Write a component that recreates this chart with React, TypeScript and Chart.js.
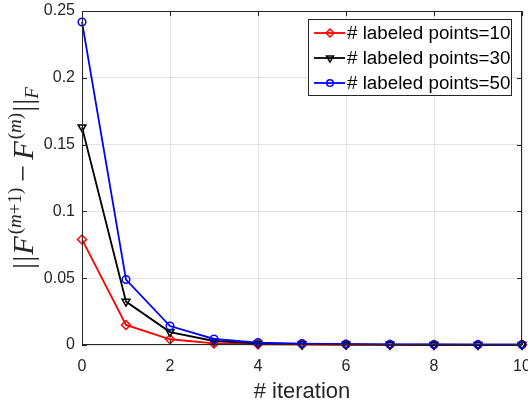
import React, { useEffect, useRef } from "react";
import { Chart, registerables } from "chart.js";
import { drawPoint } from "chart.js/helpers";

Chart.register(...registerables);

// Convergence of the label matrix over the iterations
const iterations = [0, 1, 2, 3, 4, 5, 6, 7, 8, 9, 10];
const points10 = [0.079, 0.015, 0.0043, 0.0012, 0.0005, 0.0003, 0.0002, 0.0001, 0.0001, 0.0001, 0.0001];
const points30 = [0.163, 0.0325, 0.0097, 0.003, 0.0012, 0.0006, 0.0004, 0.0003, 0.0002, 0.0002, 0.0002];
const points50 = [0.2418, 0.049, 0.0142, 0.0045, 0.0018, 0.0011, 0.0007, 0.0005, 0.0004, 0.0003, 0.0003];

const seriesLabels = ["# labeled points=10", "# labeled points=30", "# labeled points=50"];
const xTicks = [0, 2, 4, 6, 8, 10];
const yTicks = [0, 0.05, 0.1, 0.15, 0.2, 0.25];
const yTickLabels = ["0", "0.05", "0.1", "0.15", "0.2", "0.25"];
const xTitle = "# iteration";

const SANS = '"Liberation Sans", Arial, Helvetica, sans-serif';
const SERIF = '"Liberation Serif", "DejaVu Serif", serif';
const INK = "#262626";
const GRID = "#e3e3e3";

type Piece = { t: string; font: string; dy: number; before?: number; after?: number };

function titlePieces(S: number): Piece[] {
  const s = Math.round(S * 0.64);
  const up = (sz: number) => `${sz}px ${SERIF}`;
  const it = (sz: number) => `italic ${sz}px ${SERIF}`;
  const sup = -0.4 * S;
  const sub = 0.18 * S;
  return [
    { t: "|", font: up(S), dy: 0, after: 1 },
    { t: "|", font: up(S), dy: 0, after: 1 },
    { t: "F", font: it(S), dy: 0, after: 2 },
    { t: "(", font: up(s), dy: sup },
    { t: "m", font: it(s), dy: sup },
    { t: "+1)", font: up(s), dy: sup },
    { t: "\u2212", font: up(S), dy: 0, before: 0.18 * S, after: 0.18 * S },
    { t: "F", font: it(S), dy: 0, after: 2 },
    { t: "(", font: up(s), dy: sup },
    { t: "m", font: it(s), dy: sup },
    { t: ")", font: up(s), dy: sup, after: 1 },
    { t: "|", font: up(S), dy: 0, after: 1 },
    { t: "|", font: up(S), dy: 0, after: 0 },
    { t: "F", font: it(s), dy: sub },
  ];
}

function measure(ctx: CanvasRenderingContext2D, pieces: Piece[]) {
  let total = 0;
  const widths = pieces.map((p) => {
    ctx.font = p.font;
    const w = ctx.measureText(p.t).width;
    total += (p.before || 0) + w + (p.after || 0);
    return w;
  });
  return { total, widths };
}

// ||F^{(m+1)} - F^{(m)}||_F, rotated along the left edge
function drawYTitle(ctx: CanvasRenderingContext2D, cx: number, cy: number, length: number) {
  ctx.save();
  let S = 31;
  let m = measure(ctx, titlePieces(S));
  S = S * (length / m.total);
  const pieces = titlePieces(S);
  m = measure(ctx, pieces);
  ctx.translate(cx, cy);
  ctx.rotate(-Math.PI / 2);
  ctx.fillStyle = INK;
  ctx.textBaseline = "alphabetic";
  ctx.textAlign = "left";
  let x = -m.total / 2;
  pieces.forEach((p, i) => {
    x += p.before || 0;
    ctx.font = p.font;
    ctx.fillText(p.t, x, p.dy);
    x += m.widths[i] + (p.after || 0);
  });
  ctx.restore();
}

const frame = {
  id: "frame",
  afterDraw(chart: any) {
    const { ctx, chartArea: a, scales } = chart;
    const xs = scales.x;
    const ys = scales.y;
    ctx.save();
    // box and inward ticks
    ctx.strokeStyle = INK;
    ctx.lineWidth = 1;
    ctx.strokeRect(a.left + 0.5, a.top + 0.5, a.right - a.left - 1, a.bottom - a.top - 1);
    const tl = 5;
    ctx.beginPath();
    xTicks.forEach((v) => {
      const px = Math.round(xs.getPixelForValue(v)) + 0.5;
      ctx.moveTo(px, a.bottom);
      ctx.lineTo(px, a.bottom - tl);
      ctx.moveTo(px, a.top);
      ctx.lineTo(px, a.top + tl);
    });
    yTicks.forEach((v) => {
      const py = Math.round(ys.getPixelForValue(v)) + 0.5;
      ctx.moveTo(a.left, py);
      ctx.lineTo(a.left + tl, py);
      ctx.moveTo(a.right, py);
      ctx.lineTo(a.right - tl, py);
    });
    ctx.stroke();

    // x axis title
    ctx.fillStyle = INK;
    ctx.font = `22px ${SANS}`;
    ctx.textAlign = "center";
    ctx.textBaseline = "alphabetic";
    ctx.fillText(xTitle, (a.left + a.right) / 2, 398);

    // y axis title
    drawYTitle(ctx, 33, 178, 184);

    // legend
    const lx = 308, ly = 19, lw = 204, lh = 77;
    ctx.fillStyle = "#ffffff";
    ctx.fillRect(lx, ly, lw, lh);
    ctx.strokeStyle = INK;
    ctx.lineWidth = 1;
    ctx.strokeRect(lx + 0.5, ly + 0.5, lw - 1, lh - 1);
    const rowY = [33, 58, 83];
    chart.data.datasets.forEach((ds: any, i: number) => {
      const y = rowY[i];
      ctx.strokeStyle = ds.borderColor;
      ctx.lineWidth = ds.borderWidth;
      ctx.beginPath();
      ctx.moveTo(314, y);
      ctx.lineTo(345, y);
      ctx.stroke();
      ctx.fillStyle = "rgba(0,0,0,0)";
      ctx.lineWidth = ds.pointBorderWidth;
      drawPoint(ctx, {
        pointStyle: ds.pointStyle,
        rotation: ds.pointRotation || 0,
        radius: ds.pointRadius - 0.5,
        borderWidth: ds.pointBorderWidth,
      } as any, 330, y);
      ctx.fillStyle = "#000000";
      ctx.font = `18.8px ${SANS}`;
      ctx.textAlign = "left";
      ctx.textBaseline = "middle";
      ctx.fillText(ds.label, 347, y + 1);
    });
    ctx.restore();
  },
};

function series(values: number[]) {
  return iterations.map((x, i) => ({ x, y: values[i] }));
}

export default function App() {
  const ref = useRef<HTMLCanvasElement | null>(null);

  useEffect(() => {
    if (!ref.current) return;
    const chart = new Chart(ref.current, {
      type: "line",
      data: {
        datasets: [
          {
            label: seriesLabels[0],
            data: series(points10),
            borderColor: "#ff0000",
            backgroundColor: "rgba(0,0,0,0)",
            borderWidth: 1.8,
            pointStyle: "rectRot",
            pointRadius: 4.5,
            pointBorderWidth: 1.5,
            pointBackgroundColor: "rgba(0,0,0,0)",
            order: 2,
            clip: false,
          } as any,
          {
            label: seriesLabels[1],
            data: series(points30),
            borderColor: "#000000",
            backgroundColor: "rgba(0,0,0,0)",
            borderWidth: 1.8,
            pointStyle: "triangle",
            pointRotation: 180,
            pointRadius: 4.5,
            pointBorderWidth: 1.5,
            pointBackgroundColor: "rgba(0,0,0,0)",
            order: 1,
            clip: false,
          } as any,
          {
            label: seriesLabels[2],
            data: series(points50),
            borderColor: "#0000ff",
            backgroundColor: "rgba(0,0,0,0)",
            borderWidth: 1.8,
            pointStyle: "circle",
            pointRadius: 3.8,
            pointBorderWidth: 1.5,
            pointBackgroundColor: "rgba(0,0,0,0)",
            order: 0,
            clip: false,
          } as any,
        ],
      },
      options: {
        animation: false,
        responsive: false,
        devicePixelRatio: 1,
        layout: { padding: { top: 11, right: 6, left: 0, bottom: 0 } },
        plugins: {
          legend: { display: false },
          tooltip: { enabled: false },
          title: { display: false },
        },
        scales: {
          x: {
            type: "linear",
            min: 0,
            max: 10,
            afterBuildTicks: (s: any) => {
              s.ticks = xTicks.map((v) => ({ value: v }));
            },
            afterFit: (s: any) => {
              s.height = 59;
              s.paddingLeft = 0;
              s.paddingRight = 0;
            },
            grid: { color: GRID, lineWidth: 1, drawTicks: false },
            border: { display: false },
            ticks: {
              color: INK,
              font: { family: SANS, size: 16 },
              padding: 12,
              maxRotation: 0,
              autoSkip: false,
              callback: (v: any) => String(v),
            },
          },
          y: {
            type: "linear",
            min: 0,
            max: 0.25,
            afterBuildTicks: (s: any) => {
              s.ticks = yTicks.map((v) => ({ value: v }));
            },
            afterFit: (s: any) => {
              s.width = 82;
              s.paddingTop = 0;
              s.paddingBottom = 0;
            },
            grid: { color: GRID, lineWidth: 1, drawTicks: false },
            border: { display: false },
            ticks: {
              color: INK,
              font: { family: SANS, size: 16 },
              padding: 7,
              autoSkip: false,
              callback: (_v: any, i: number) => yTickLabels[i],
            },
          },
        },
      },
      plugins: [frame],
    });
    return () => chart.destroy();
  }, []);

  return (
    <div style={{ position: "fixed", left: 0, top: 0, width: 528, height: 404, background: "#ffffff" }}>
      <canvas ref={ref} width={528} height={404} style={{ width: 528, height: 404 }} />
    </div>
  );
}
